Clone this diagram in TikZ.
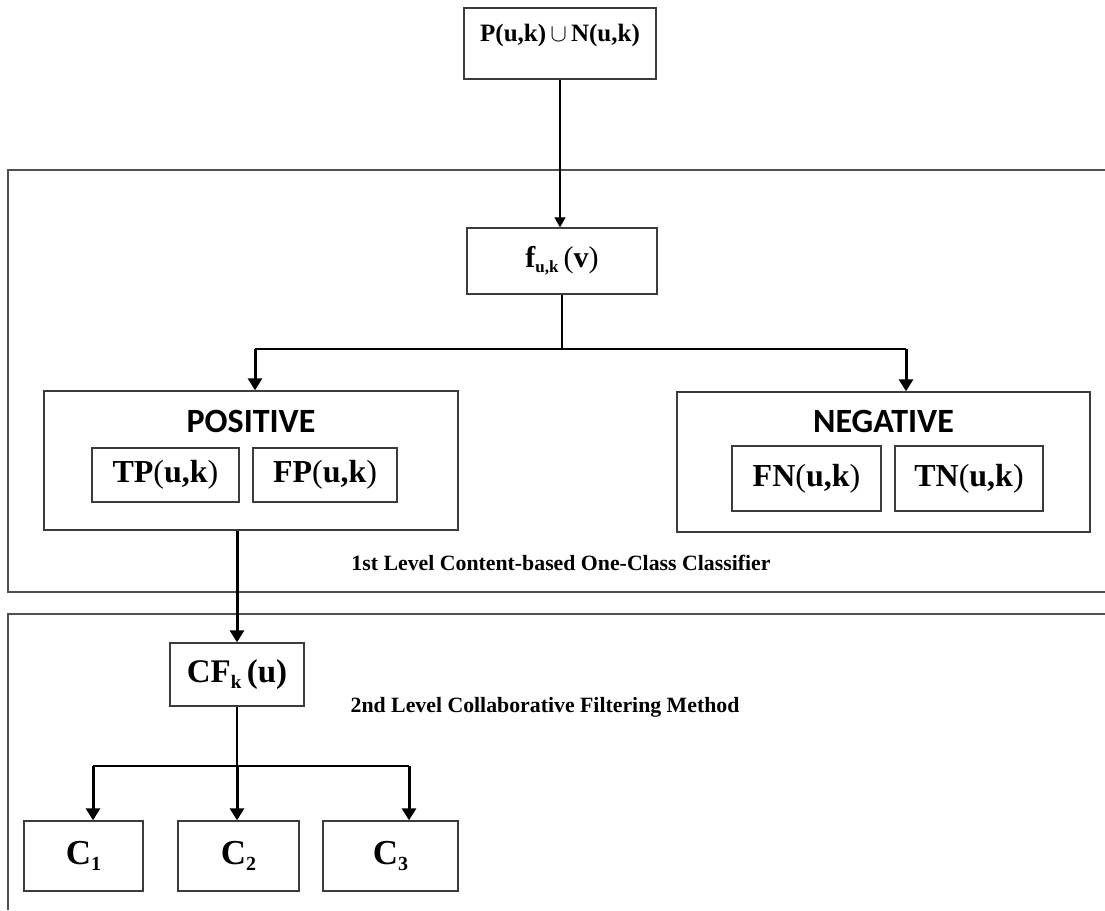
\documentclass[tikz,border=0pt]{standalone}
\usepackage{fontspec}
\setmainfont{Liberation Serif}
\newfontfamily\headfont{Carlito}
\usetikzlibrary{arrows.meta}

\definecolor{framegray}{HTML}{505050}
\definecolor{boxgray}{HTML}{3C3C3C}

\newcommand{\fs}[1]{\fontsize{#1}{#1}\selectfont}
\newcommand{\Lb}{{\mdseries(}}
\newcommand{\Rb}{{\mdseries)}}

\begin{document}
\begin{tikzpicture}[x=1pt,y=-1pt,
  box/.style={draw=boxgray,line width=1.4pt,inner sep=0pt,font=\bfseries},
  frame/.style={draw=framegray,line width=1.9pt},
  link/.style={line width=1.3pt},
  drop/.style={line width=3pt,-{Triangle[width=14pt,length=12pt]}},
  thinarrow/.style={line width=1.3pt,-{Triangle[width=11pt,length=10pt]}},
  caption/.style={font=\bfseries\fs{21.8}}]
  \useasboundingbox (0,0) rectangle (1105,910);

  % the two level frames, open to the right
  \draw[frame] (1105,170) -- (8,170) -- (8,592) -- (1105,592);
  \draw[frame] (1105,614) -- (8,614) -- (8,910);

  \node (pn) at (560,43.5) [box,minimum width=192pt,text height=33pt,text depth=38pt,font=\bfseries\fs{25}] {P(u,k)\,$\cup$\,N(u,k)};
  \node (fuk) at (562,261) [box,minimum width=190pt,minimum height=66pt,font=\bfseries\fs{30}] {f\raisebox{-0.35ex}{\fs{17}u,k}\,\Lb v\Rb};

  \node (pos) at (251,460.5) [box,minimum width=414pt,text height=41pt,text depth=98pt,font=\headfont\bfseries\fs{34}] {POSITIVE};
  \node (tp) at (165.5,475) [box,minimum width=147pt,minimum height=54pt,font=\bfseries\fs{32}] {TP\Lb u,k\Rb};
  \node (fp) at (325,475) [box,minimum width=144pt,minimum height=54pt,font=\bfseries\fs{32}] {FP\Lb u,k\Rb};

  \node (neg) at (883.5,462) [box,minimum width=413pt,text height=40pt,text depth=100pt,font=\headfont\bfseries\fs{34}] {NEGATIVE};
  \node (fn) at (806.5,478.5) [box,minimum width=149pt,minimum height=65pt,font=\bfseries\fs{32}] {FN\Lb u,k\Rb};
  \node (tn) at (969,478.5) [box,minimum width=148pt,minimum height=65pt,font=\bfseries\fs{32}] {TN\Lb u,k\Rb};

  \node (lvlone) at (561,563) [caption] {1st Level Content-based One-Class Classifier};

  \node (cf) at (237,674.5) [box,minimum width=134pt,minimum height=63pt,font=\bfseries\fs{33}] {CF\raisebox{-0.4ex}{\fs{19}k}\,(u)};
  \node (lvltwo) at (545,707) [caption] {2nd Level Collaborative Filtering Method};

  \node (c1) at (83.5,856) [box,minimum width=119pt,minimum height=70pt,font=\bfseries\fs{35}] {C\raisebox{-0.4ex}{\fs{20}1}};
  \node (c2) at (238.5,856) [box,minimum width=121pt,minimum height=70pt,font=\bfseries\fs{35}] {C\raisebox{-0.4ex}{\fs{20}2}};
  \node (c3) at (390.5,856) [box,minimum width=135pt,minimum height=70pt,font=\bfseries\fs{35}] {C\raisebox{-0.4ex}{\fs{20}3}};

  % connectors
  \coordinate (posin) at (255,349);
  \coordinate (negin) at (906,349);
  \coordinate (cin1) at (93,766);
  \coordinate (cin3) at (409,766);

  \draw[thinarrow] (pn.south) -- (pn.south |- fuk.north);
  \draw[link] (fuk.south) -- (fuk.south |- posin);
  \draw[link] (posin) -- (negin);
  \draw[drop] (posin) -- (posin |- pos.north);
  \draw[drop] (negin) -- (negin |- neg.north);
  \draw[drop] (pos.south -| cf.north) -- (cf.north);
  \draw[link] (cf.south) -- (cf.south |- cin1);
  \draw[link] (cin1) -- (cin3);
  \draw[drop] (cin1) -- (cin1 |- c1.north);
  \draw[drop] (cf.south |- cin1) -- (cf.south |- c2.north);
  \draw[drop] (cin3) -- (cin3 |- c3.north);
\end{tikzpicture}
\end{document}
